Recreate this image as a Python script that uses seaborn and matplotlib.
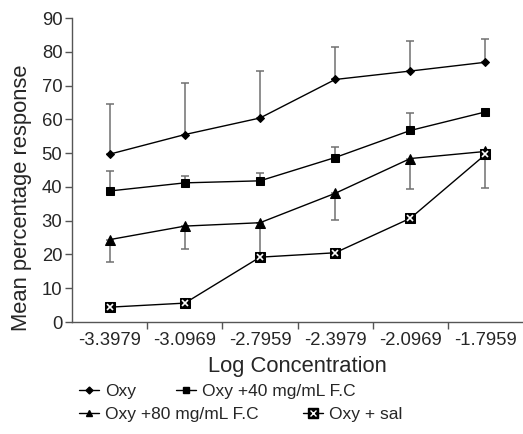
import numpy as np
import pandas as pd
import matplotlib
matplotlib.use('Agg')
import matplotlib.pyplot as plt
import seaborn as sns
from matplotlib.lines import Line2D
from matplotlib.legend_handler import HandlerTuple

# ------------------- Data -------------------
log_conc = ['-3.3979', '-3.0969', '-2.7959', '-2.3979', '-2.0969', '-1.7959']

oxy = [49.7, 55.5, 60.4, 71.8, 74.3, 76.9]
oxy_err_up = [14.8, 15.2, 13.9, 9.7, 8.8, 6.9]

oxy40 = [38.8, 41.2, 41.8, 48.7, 56.7, 62.2]
oxy40_err_up = [5.8, 2.1, 2.2, 3.2, 5.1, 0.0]

oxy80 = [24.4, 28.4, 29.4, 38.1, 48.4, 50.5]
oxy80_err_down = [6.7, 6.8, 9.4, 8.0, 9.0, 10.8]

oxy_sal = [4.4, 5.6, 19.2, 20.5, 30.7, 49.6]

series_names = ['Oxy', 'Oxy +40 mg/mL F.C', 'Oxy +80 mg/mL F.C', 'Oxy + sal']

# ------------------- Styling -------------------
sns.set_style('ticks')
plt.rcParams['font.family'] = ['Liberation Sans', 'DejaVu Sans']

fig = plt.figure(figsize=(5.23, 4.34), dpi=100)
ax = fig.add_axes([0.138, 0.258, 0.862, 0.7005])

pos = np.arange(len(log_conc))
ecol = '#707070'

# error bars first (drawn under the lines)
ax.errorbar(pos, oxy, yerr=[np.zeros(6), oxy_err_up], fmt='none',
            ecolor=ecol, elinewidth=1.1, capsize=3, capthick=1.1, zorder=1)
ax.errorbar(pos, oxy40, yerr=[np.zeros(6), oxy40_err_up], fmt='none',
            ecolor=ecol, elinewidth=1.1, capsize=3, capthick=1.1, zorder=1)
ax.errorbar(pos, oxy80, yerr=[oxy80_err_down, np.zeros(6)], fmt='none',
            ecolor=ecol, elinewidth=1.1, capsize=3, capthick=1.1, zorder=1)

# ------------------- Lines -------------------
sns.lineplot(x=pos, y=oxy, color='black', lw=1, marker='D', markersize=4,
             markeredgecolor='black', ax=ax, zorder=3)
sns.lineplot(x=pos, y=oxy40, color='black', lw=1, marker='s', markersize=5.5,
             markeredgecolor='black', ax=ax, zorder=3)
sns.lineplot(x=pos, y=oxy80, color='black', lw=1, marker='^', markersize=6.5,
             markeredgecolor='black', ax=ax, zorder=3)
sns.lineplot(x=pos, y=oxy_sal, color='black', lw=1, marker='s', markersize=7.5,
             markeredgecolor='black', ax=ax, zorder=3)
ax.plot(pos, oxy_sal, ls='none', marker='x', markersize=4.5, mew=1.2,
        color='white', zorder=4)

# ------------------- Axes -------------------
ax.set_xlim(-0.5, 5.5)
ax.set_ylim(0, 90)
ax.set_yticks(range(0, 91, 10))
ax.set_xticks(pos)
ax.set_xticklabels(log_conc)
ax.set_xticks(np.arange(0.5, 5.0, 1.0), minor=True)
ax.tick_params(axis='x', which='major', length=0, pad=7, labelsize=13.3)
ax.tick_params(axis='x', which='minor', length=5, width=1, color='#555555')
ax.tick_params(axis='y', length=5, width=1, color='#555555', labelsize=13.3, pad=2)
sns.despine(ax=ax)
for s in ['left', 'bottom']:
    ax.spines[s].set_color('#555555')
    ax.spines[s].set_linewidth(1)
ax.set_xlabel('Log Concentration', fontsize=15.8, labelpad=5)
ax.set_ylabel('Mean percentage response', fontsize=15.8)
ax.yaxis.set_label_coords(-0.09, 0.408)

# ------------------- Legend (two flowing rows) -------------------
h_oxy = Line2D([], [], color='black', lw=1, marker='D', markersize=3.5)
h_40 = Line2D([], [], color='black', lw=1, marker='s', markersize=4.5)
h_80 = Line2D([], [], color='black', lw=1, marker='^', markersize=5)
h_sal = (Line2D([], [], color='black', lw=1, marker='s', markersize=6.5),
         Line2D([], [], ls='none', marker='x', markersize=4, mew=1, color='white'))

leg_kw = dict(ncol=2, frameon=False, fontsize=12.5, handlelength=1.15,
              handletextpad=0.35, borderaxespad=0, loc='upper left',
              handler_map={tuple: HandlerTuple(ndivide=1)})
fig.legend([h_oxy, h_40], series_names[:2], columnspacing=2.3,
           bbox_to_anchor=(0.137, 0.132), **leg_kw)
fig.legend([h_80, h_sal], series_names[2:], columnspacing=2.6,
           bbox_to_anchor=(0.137, 0.079), **leg_kw)

fig.savefig('out.png', dpi=100)
